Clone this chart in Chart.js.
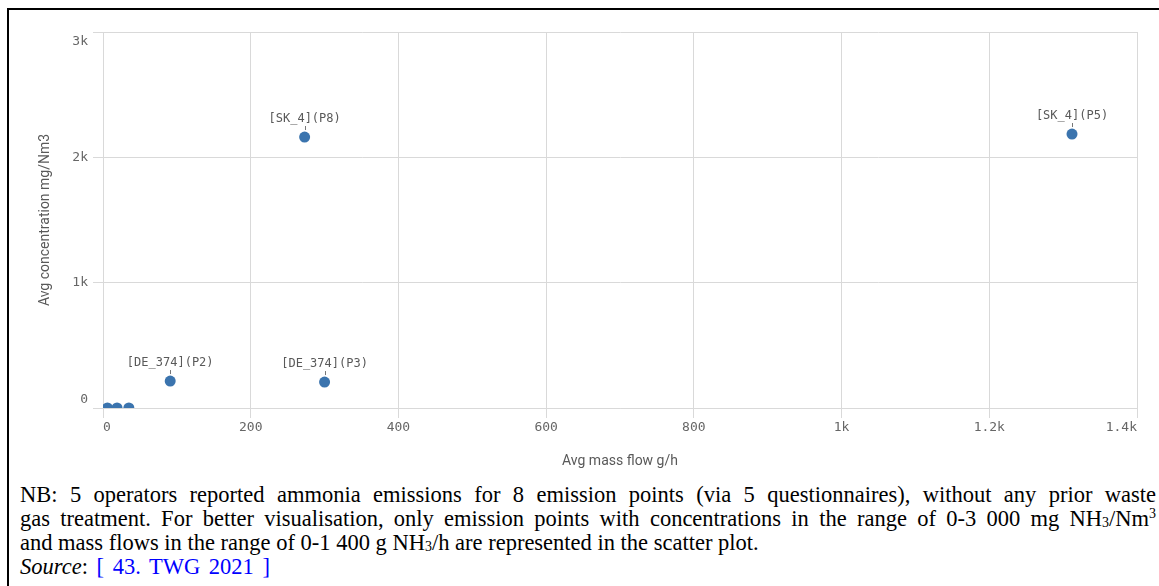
<!DOCTYPE html>
<html>
<head>
<meta charset="utf-8">
<script src="https://cdn.jsdelivr.net/npm/chart.js@4.4.0/dist/chart.umd.min.js"></script>
<style>
    html, body { margin: 0; padding: 0; background: #fff; width: 1159px; height: 586px; overflow: hidden; }
    #frame { position: absolute; left: 7px; top: 8px; width: 1200px; height: 700px; border-left: 2px solid #000; border-top: 2px solid #000; }
    #chartBox { position: absolute; left: 9px; top: 10px; width: 1150px; height: 460px; }
    #caption { position: absolute; left: 20px; top: 483px; width: 1136px; font-family: "Liberation Serif", "Times New Roman", serif; font-size: 22.5px; line-height: 24px; color: #000; }
    #caption .just { text-align: justify; text-align-last: justify; white-space: nowrap; }
    #caption sub { font-size: 14px; vertical-align: -1px; line-height: 0; }
    #caption sup { font-size: 14px; line-height: 0; }
    #caption .src { word-spacing: 3px; }
    #caption a { color: #0000ff; text-decoration: none; }
</style>
</head>
<body>
<div id="frame"></div>
<div id="chartBox"><canvas id="scatterChart"></canvas></div>
<div id="caption">
    <div class="just">NB: 5 operators reported ammonia emissions for 8 emission points (via 5 questionnaires), without any prior waste</div>
    <div class="just">gas treatment. For better visualisation, only emission points with concentrations in the range of 0-3 000 mg NH<sub>3</sub>/Nm<sup>3</sup></div>
    <div>and mass flows in the range of 0-1 400 g NH<sub>3</sub>/h are represented in the scatter plot.</div>
    <div class="src"><i>Source</i>: <a>[ 43. TWG 2021 ]</a></div>
</div>
<script>
// data
var massFlow = [6, 19, 35, 91, 273, 300, 1312];
var concentration = [0, 0, 0, 215, 2162, 207, 2186];
var pointLabels = ['', '', '', '[DE_374](P2)', '[SK_4](P8)', '[DE_374](P3)', '[SK_4](P5)'];

var points = massFlow.map(function(x, i) { return { x: x, y: concentration[i] }; });

function kFormat(v) {
    if (v >= 1000) return (v / 1000) + 'k';
    return String(v);
}

var monoFamily = '"DejaVu Sans Mono", monospace';
var tickColor = '#666';

// draws the text labels above the labelled points, and the y tick labels
// (kept inside the plot at the ends, like the original)
var pointLabelPlugin = {
    id: 'pointLabels',
    afterDraw: function(chart) {
        var ctx = chart.ctx;
        var xs = chart.scales.x, ys = chart.scales.y;
        ctx.save();

        ctx.font = '13px ' + monoFamily;
        ctx.fillStyle = tickColor;
        ctx.textAlign = 'right';
        var lx = ys.right - 10 - 5;
        ys.ticks.forEach(function(t, i) {
            var py = ys.getPixelForValue(t.value);
            if (i === 0) {
                ctx.textBaseline = 'bottom';
                py -= 2;
            } else if (i === ys.ticks.length - 1) {
                ctx.textBaseline = 'top';
                py += 3;
            } else {
                ctx.textBaseline = 'middle';
            }
            ctx.fillText(kFormat(t.value), lx, py);
        });

        ctx.font = '12px ' + monoFamily;
        ctx.fillStyle = '#595959';
        ctx.strokeStyle = '#777';
        ctx.lineWidth = 1;
        ctx.textAlign = 'center';
        ctx.textBaseline = 'middle';
        pointLabels.forEach(function(lbl, i) {
            if (!lbl) return;
            var px = xs.getPixelForValue(massFlow[i]);
            var py = ys.getPixelForValue(concentration[i]);
            ctx.fillText(lbl, px, py - 18);
            ctx.beginPath();
            ctx.moveTo(Math.round(px) + 0.5, py - 11);
            ctx.lineTo(Math.round(px) + 0.5, py - 7);
            ctx.stroke();
        });
        ctx.restore();
    }
};

var tickFont = { family: monoFamily, size: 13 };
var titleFont = { family: 'Roboto, sans-serif', size: 14 };
var gridColor = '#d9d9d9';

var ctxScatter = document.getElementById('scatterChart').getContext('2d');
var scatterChart = new Chart(ctxScatter, {
    type: 'scatter',
    data: {
        datasets: [{
            data: points,
            backgroundColor: '#3b74ae',
            borderColor: '#3b74ae',
            borderWidth: 0,
            pointRadius: 5.5,
            pointHoverRadius: 5.5,
            clip: 0
        }]
    },
    options: {
        responsive: true,
        maintainAspectRatio: false,
        animation: false,
        events: [],
        layout: { padding: { left: 0, top: 22, right: 22, bottom: 0 } },
        plugins: {
            legend: { display: false },
            tooltip: { enabled: false }
        },
        scales: {
            x: {
                type: 'linear',
                min: 0,
                max: 1400,
                afterFit: function(scale) { scale.height = 62; },
                border: { color: gridColor },
                grid: { color: gridColor, tickLength: 10 },
                ticks: {
                    stepSize: 200,
                    align: 'inner',
                    padding: 2,
                    maxRotation: 0,
                    color: tickColor,
                    font: tickFont,
                    callback: function(v) { return kFormat(v); }
                },
                title: {
                    display: true,
                    text: 'Avg mass flow g/h',
                    color: '#595959',
                    font: titleFont,
                    padding: { top: 0, bottom: 0 }
                }
            },
            y: {
                type: 'linear',
                min: 0,
                max: 3000,
                afterFit: function(scale) { scale.width = 94; },
                border: { color: gridColor },
                grid: { color: gridColor, tickLength: 10 },
                ticks: {
                    stepSize: 1000,
                    display: false
                },
                title: {
                    display: true,
                    text: 'Avg concentration mg/Nm3',
                    color: '#595959',
                    font: titleFont,
                    padding: { top: 28, bottom: 0 }
                }
            }
        }
    },
    plugins: [pointLabelPlugin]
});
</script>
</body>
</html>
